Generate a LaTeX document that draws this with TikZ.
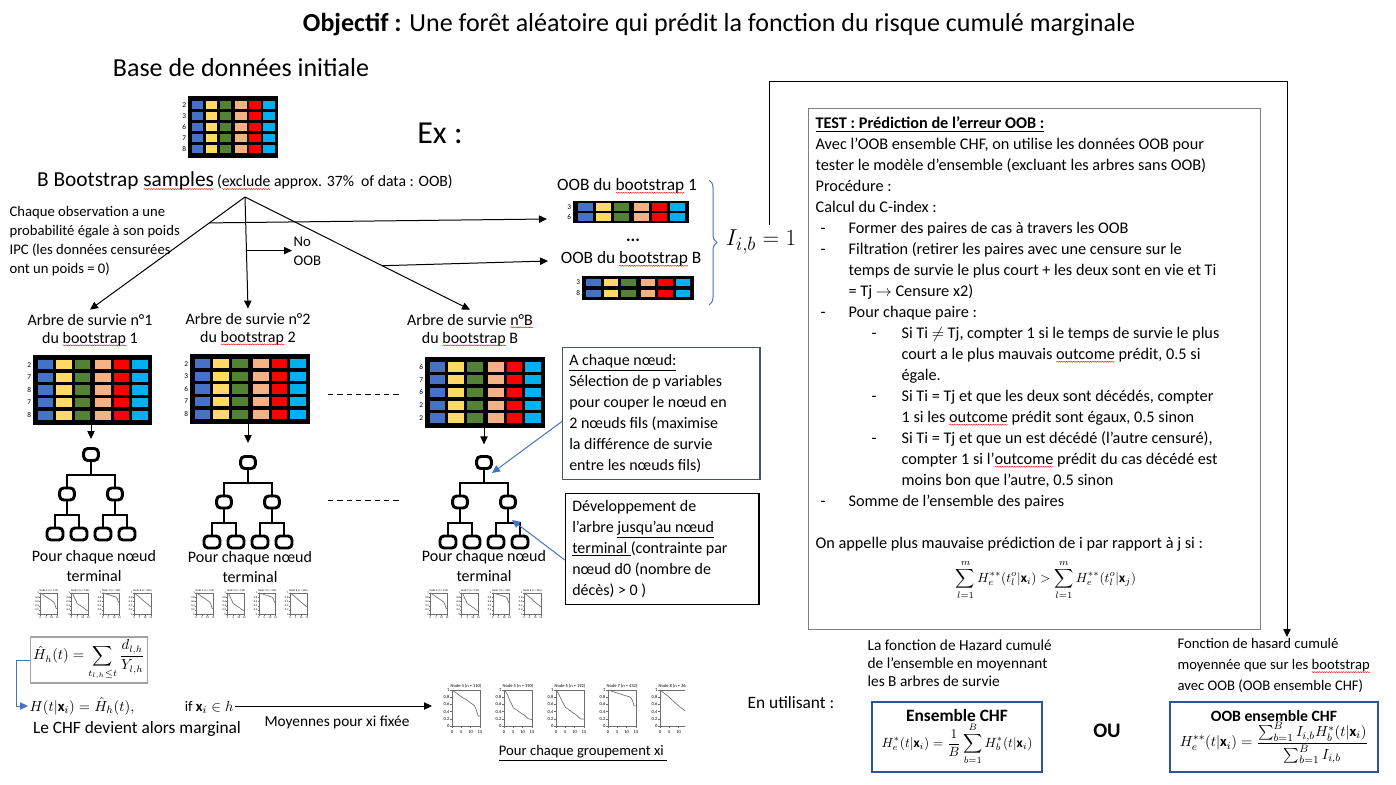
\documentclass[tikz,border=0pt]{standalone}
\usepackage{fontspec}
\setmainfont{Carlito}
\usepackage{amsmath, amssymb}
\usepackage{tikz}
\usetikzlibrary{positioning, arrows.meta, calc, decorations.pathreplacing, decorations.pathmorphing}
\definecolor{cellBlue}  {HTML}{4472C4}
\definecolor{cellYellow}{HTML}{FFD966}
\definecolor{cellGreen} {HTML}{548235}
\definecolor{cellPeach} {HTML}{F4B183}
\definecolor{cellRed}   {HTML}{FF0000}
\definecolor{cellCyan}  {HTML}{00B0F0}
\definecolor{accentBlue}{HTML}{4472C4}
\definecolor{frameBlue} {HTML}{2F5597}
\definecolor{frameGray} {HTML}{7F7F7F}
\definecolor{frameSlate}{HTML}{44546A}
\definecolor{plotGray}  {HTML}{6E6E6E}

\tikzset{
  arr/.style={-{Triangle[length=6pt,width=5.5pt]}, line width=0.75pt},
  bluearr/.style={-{Triangle[length=6pt,width=5.5pt]}, draw=accentBlue, line width=0.75pt},
  tabframe/.style={fill=black, inner sep=0pt, outer sep=0pt},
  rowlab/.style={font=\fontsize{5.5}{6}\selectfont, inner sep=0.5pt},
  tbox/.style={draw, line width=2.2pt, rounded corners=3pt, minimum width=11pt, minimum height=9pt, inner sep=0pt},
  tleaf/.style={tbox, minimum width=12pt},
  tline/.style={line width=2.2pt},
  txt/.style={font=\fontsize{12}{15.75}\selectfont, inner sep=1pt},
  smalltxt/.style={font=\fontsize{11}{14.25}\selectfont, inner sep=1pt},
  tinytxt/.style={font=\fontsize{3.4}{3.8}\selectfont, inner sep=0.3pt},
}

% spell-check wave under a word
\newsavebox{\sqbox}
\newcommand{\squig}[1]{\sbox{\sqbox}{#1}\rlap{\raisebox{-2.3pt}{\tikz[x=1pt, y=1pt]\draw[red, line width=0.3pt, decorate, decoration={zigzag, amplitude=0.4pt, segment length=1.8pt}] (0,0) -- (\wd\sqbox,0);}}\usebox{\sqbox}}
% indents of the test box
\newcommand{\dashA}{\hspace*{3.75pt}\makebox[21pt][l]{-}}
\newcommand{\contA}{\hspace*{24.75pt}}
\newcommand{\dashB}{\hspace*{42pt}\makebox[22.5pt][l]{-}}
\newcommand{\contB}{\hspace*{64.5pt}}

% data table: name, x, y, width, height, rows, row labels
\newcommand{\datatab}[7]{%
  \node[tabframe, anchor=north west, minimum width=#4*0.75pt, minimum height=#5*0.75pt] (#1) at (#2,#3) {};
  \foreach \col [count=\ci from 0] in {cellBlue,cellYellow,cellGreen,cellPeach,cellRed,cellCyan}
    \foreach \rw [count=\rj from 0] in {#7}
      \fill[\col] ($(#1.north west)+({#4*(0.04+0.155*\ci+0.02*(\ci>2))},{#5*0.05+(\rj+0.14)*#5*0.9/#6})$)
        rectangle ++({#4*0.13},{#5*0.9/#6*0.72});
  \foreach \rw [count=\rj from 0] in {#7}
    \node[rowlab, anchor=east] at ($(#1.north west)+(-1,{#5*0.05+(\rj+0.5)*#5*0.9/#6})$) {\rw};
}

% tree icon: name, centre x, top y
\newcommand{\survtree}[3]{%
  \node[tbox] (#1r) at (#2,#3+7.5) {};
  \coordinate (#1b) at (#2,#3+28);
  \node[tbox] (#1c1) at (#2-24,#3+47) {};
  \node[tbox] (#1c2) at (#2+24,#3+47) {};
  \coordinate (#1b1) at (#2-24,#3+68);
  \coordinate (#1b2) at (#2+24,#3+68);
  \node[tleaf] (#1l1) at (#2-36,#3+87) {};
  \node[tleaf] (#1l2) at (#2-12,#3+87) {};
  \node[tleaf] (#1l3) at (#2+12,#3+87) {};
  \node[tleaf] (#1l4) at (#2+36,#3+87) {};
  \draw[tline] (#1r) -- (#1b) -| (#1c1);
  \draw[tline] (#1b) -| (#1c2);
  \draw[tline] (#1c1) -- (#1b1) -| (#1l1);
  \draw[tline] (#1b1) -| (#1l2);
  \draw[tline] (#1c2) -- (#1b2) -| (#1l3);
  \draw[tline] (#1b2) -| (#1l4);
}

% survival curves (t/S)
\newcommand{\curveA}{2/0.93,4/0.85,6/0.78,8/0.72,10/0.64,12/0.57,13/0.45,14/0.28,15/0.27}
\newcommand{\curveB}{1/0.95,2/0.85,3/0.72,4/0.62,5/0.5,7/0.44,9/0.36,11/0.3,13/0.2,15/0.18}
\newcommand{\curveC}{1/0.93,2/0.82,3/0.72,5/0.52,7/0.45,9/0.37,11/0.3,13/0.2,15/0.19}
\newcommand{\curveD}{3/0.95,6/0.9,9/0.85,12/0.8,13/0.72,14/0.56,15/0.56}
\newcommand{\curveE}{2/0.92,4/0.84,6/0.75,8/0.65,10/0.56,12/0.48,14/0.4,15/0.35}

% one panel: x offset, title, curve
\newcommand{\plotpanel}[3]{%
  \begin{scope}[shift={(#1,0)}]
    \draw[plotGray, line width=0.3pt] (14,8) rectangle (42,44);
    \node[tinytxt] at (28,4.5) {#2};
    \foreach \v in {0,0.2,0.4,0.6,0.8,1} {
      \draw[plotGray, line width=0.3pt] (14,{44-36*\v}) -- ++(-2,0);
      \node[tinytxt, anchor=east] at (12,{44-36*\v}) {\v};
    }
    \foreach \t in {0,5,10,15} {
      \draw[plotGray, line width=0.3pt] ({14+28*\t/15},44) -- ++(0,2);
      \node[tinytxt] at ({14+28*\t/15},50) {\t};
    }
    \draw[plotGray, line width=0.5pt] (14,8) \foreach \t/\s in #3 {-- ({14+28*\t/15},{44-36*\s})};
  \end{scope}}

\begin{document}
\begin{tikzpicture}[x=0.75pt, y=-0.75pt]
  \useasboundingbox (0,0) rectangle (1396,785);

  \node[font=\fontsize{19.5}{23}\selectfont] (title) at (719,25) {\textbf{Objectif :} Une forêt aléatoire qui prédit la fonction du risque cumulé marginale};
  \node[font=\fontsize{19.5}{23}\selectfont] (base) at (241,68) {Base de données initiale};
  \datatab{tab0}{188}{96}{90}{62}{5}{2,3,6,7,8}
  \node[font=\fontsize{24}{28}\selectfont] (ex) at (440,133) {Ex :};
  \node (boot) at (245,181) {{\fontsize{16}{19}\selectfont B Bootstrap \squig{samples}} {\fontsize{11.8}{14}\selectfont (\squig{exclude} approx. 37\%\ \ of data : OOB)}};
  \coordinate (fan) at (245,197);

  \node[smalltxt, anchor=north west, align=left] (poids) at (8,205) {Chaque observation a une\\probabilité égale à son poids\\IPC (les données censurées\\ont un poids = 0)};
  \node[smalltxt, anchor=west, align=left] (nooob) at (292,251) {No\\OOB};

  % OOB samples
  \node[font=\fontsize{13}{15}\selectfont] (oob1lab) at (627,186) {OOB du \squig{bootstrap} 1};
  \datatab{oob1}{573}{201}{116}{22}{2}{3,6}
  \node[font=\bfseries\fontsize{13}{15}\selectfont] (dots) at (633,240) {...};
  \node[font=\fontsize{13}{15}\selectfont] (oobBlab) at (631,259) {OOB du \squig{bootstrap} B};
  \datatab{oobB}{582}{276}{112}{24}{2}{3,8}
  \draw[accentBlue, line width=0.75pt, decorate, decoration={brace, amplitude=6pt}] (709,180) -- (709,305);
  \node[font=\fontsize{19}{22}\selectfont] (ilab) at (761,242) {$I_{i,b}=1$};

  % trees
  \node[txt, font=\fontsize{12}{13.5}\selectfont, align=center, inner ysep=3pt] (lab1) at (90,330) {Arbre de survie n°1\\du \squig{bootstrap} 1};
  \node[txt, font=\fontsize{12}{13.5}\selectfont, align=center, inner ysep=3pt] (lab2) at (248,329) {Arbre de survie n°2\\du \squig{bootstrap} 2};
  \node[txt, font=\fontsize{12}{13.5}\selectfont, align=center, inner ysep=3pt] (labB) at (470,330) {Arbre de survie \squig{n°B}\\du \squig{bootstrap} B};
  \draw[arr] (fan) -- (lab1.north);
  \draw[arr] (fan) -- (lab2.north);
  \draw[arr] (fan) -- (labB.north);
  \coordinate (s1) at ($(fan)!0.23!(lab1.north)$);
  \coordinate (s2) at ($(fan)!0.48!(lab2.north)$);
  \coordinate (s3) at ($(fan)!0.61!(labB.north)$);
  \draw[arr] (s1) -- ($(oob1.west)+(-26,7)$);
  \draw[arr] (s2) -- (s2 -| nooob.west);
  \draw[arr] (s3) -- ($(oobBlab.west)+(-8,2)$);

  \datatab{tab1}{33}{355}{119}{70}{5}{2,7,8,7,8}
  \datatab{tab2}{190}{354}{120}{70}{5}{2,3,6,7,8}
  \datatab{tabB}{425}{357}{120}{71}{5}{6,7,6,2,2}
  \draw[dashed, dash pattern=on 4pt off 3pt, line width=0.75pt] (328,394) -- (400,394);

  \survtree{t1}{91}{447}
  \survtree{t2}{248}{455}
  \survtree{tB}{484}{455}
  \draw[arr] (tab1.south -| t1r.north) -- ([yshift=6pt]t1r.north);
  \draw[arr] (tab2.south -| t2r.north) -- ([yshift=9pt]t2r.north);
  \draw[arr] (tabB.south -| tBr.north) -- ([yshift=8pt]tBr.north);
  \draw[dashed, dash pattern=on 4pt off 3pt, line width=0.75pt] (328,500) -- (402,500);

  \node[txt, font=\fontsize{12}{14.5}\selectfont, align=center] (pc1) at (94,566) {Pour chaque nœud\\terminal};
  \node[txt, font=\fontsize{12}{14.5}\selectfont, align=center] (pc2) at (250,567) {Pour chaque nœud\\terminal};
  \node[txt, font=\fontsize{12}{14.5}\selectfont, align=center] (pcB) at (484,566) {Pour chaque nœud\\terminal};

  \begin{scope}[shift={(32,588)}, scale=0.6, transform shape]
    \plotpanel{0}{Node 4 (n = 110)}{\curveA}
    \plotpanel{52}{Node 5 (n = 190)}{\curveB}
    \plotpanel{104}{Node 7 (n = 432)}{\curveD}
    \plotpanel{156}{Node 8 (n = 365)}{\curveE}
  \end{scope}
  \begin{scope}[shift={(188,588)}, scale=0.6, transform shape]
    \plotpanel{0}{Node 4 (n = 110)}{\curveA}
    \plotpanel{52}{Node 5 (n = 190)}{\curveB}
    \plotpanel{104}{Node 7 (n = 432)}{\curveD}
    \plotpanel{156}{Node 8 (n = 365)}{\curveE}
  \end{scope}
  \begin{scope}[shift={(422,588)}, scale=0.6, transform shape]
    \plotpanel{0}{Node 4 (n = 110)}{\curveA}
    \plotpanel{52}{Node 5 (n = 190)}{\curveB}
    \plotpanel{104}{Node 7 (n = 432)}{\curveD}
    \plotpanel{156}{Node 8 (n = 365)}{\curveE}
  \end{scope}

  % notes next to tree B
  \node[txt, draw=frameSlate, line width=0.9pt, anchor=north west, align=flush left, text width=138pt, inner xsep=5pt, inner ysep=5pt] (nodebox) at (562,347)
    {\underline{A chaque nœud:}\\Sélection de p variables\\pour couper le nœud en\\2 nœuds fils (maximise\\la différence de survie\\entre les nœuds fils)};
  \node[txt, draw, line width=0.9pt, anchor=north west, align=flush left, text width=135pt, inner xsep=5pt, inner ysep=5pt] (devbox) at (565,493)
    {Développement de\\l’arbre \underline{jusqu’au nœud}\\\underline{terminal }(contrainte par\\nœud d0 (nombre de\\décès) > 0 )};
  \draw[bluearr] ($(nodebox.north west)!0.56!(nodebox.south west)$) -- ($(tBb)+(8,-10)$);
  \draw[bluearr] ($(devbox.north west)!0.6!(devbox.south west)$) -- ($(tBb2)+(4,-3)$);

  % OOB test
  \node[draw=frameGray, line width=1pt, anchor=north west, minimum width=452*0.75pt, minimum height=521*0.75pt] (testbox) at (808,108) {};
  \node[txt, font=\fontsize{12.2}{15.75}\selectfont, anchor=north west, align=left] (testtxt) at (814,115) {%
    \textbf{\underline{TEST : Prédiction de l’erreur OOB :}}\\
    Avec l’OOB ensemble CHF, on utilise les données OOB pour\\
    tester le modèle d’ensemble (excluant les arbres sans OOB)\\
    Procédure :\\
    Calcul du C-index :\\
    \dashA Former des paires de cas à travers les OOB\\
    \dashA Filtration (retirer les paires avec une censure sur le\\
    \contA temps de survie le plus court + les deux sont en vie et Ti\\
    \contA = Tj $\rightarrow$ Censure x2)\\
    \dashA Pour chaque paire :\\
    \dashB Si Ti $\neq$ Tj, compter 1 si le temps de survie le plus\\
    \contB court a le plus mauvais \squig{outcome} prédit, 0.5 si\\
    \contB égale.\\
    \dashB Si Ti = Tj et que les deux sont décédés, compter\\
    \contB 1 si les \squig{outcome} prédit sont égaux, 0.5 sinon\\
    \dashB Si Ti = Tj et que un est décédé (l’autre censuré),\\
    \contB compter 1 si l’\squig{outcome} prédit du cas décédé est\\
    \contB moins bon que l’autre, 0.5 sinon\\
    \dashA Somme de l’ensemble des paires\\[15.75pt]
    On appelle plus mauvaise prédiction de i par rapport à j si :};
  \node[font=\fontsize{10}{12}\selectfont] (testeq) at (1046,580) {$\displaystyle\sum_{l=1}^{m}H_e^{**}(t_l^o|\mathbf{x}_i)>\sum_{l=1}^{m}H_e^{**}(t_l^o|\mathbf{x}_j)$};

  \coordinate (topc) at (1287,81);
  \node[txt, font=\fontsize{11}{15.75}\selectfont, anchor=north west, align=left] (fhc) at (1176,637) {Fonction de hasard cumulé\\moyennée que sur les \squig{bootstrap}\\avec OOB (OOB ensemble CHF)};
  \draw[arr] ([xshift=6pt]ilab.north) |- (topc) -- (topc |- fhc.north);

  % marginal CHF
  \node[draw=frameGray!70, line width=1pt, inner sep=2pt, font=\fontsize{10.5}{12}\selectfont] (hbox) at (89,660) {$\displaystyle\hat{H}_h(t)=\sum_{t_{l,h}\le t}\frac{d_{l,h}}{Y_{l,h}}$};
  \node[font=\fontsize{11}{13}\selectfont, anchor=west, inner sep=1pt] (hline) at (28,706) {$H(t|\mathbf{x}_i)=\hat{H}_h(t),\hspace{36pt}\mathrm{if}\ \mathbf{x}_i\in h$};
  \draw[bluearr] (hbox.west) -- ++(-13,0) |- (hline.west);
  \node[font=\fontsize{13}{15}\selectfont] (marg) at (137,729) {Le CHF devient alors marginal};
  \coordinate (strip) at (432,706);
  \draw[arr] (hline.east) -- (strip);
  \node[font=\fontsize{11.5}{13}\selectfont, inner sep=1pt] (moy) at (337,722) {Moyennes pour xi fixée};
  \begin{scope}
    \clip (434,670) rectangle (685,750);
    \begin{scope}[shift={(438,682)}]
      \plotpanel{0}{Node 4 (n = 110)}{\curveA}
      \plotpanel{52}{Node 5 (n = 190)}{\curveB}
      \plotpanel{104}{Node 5 (n = 192)}{\curveC}
      \plotpanel{156}{Node 7 (n = 432)}{\curveD}
      \plotpanel{208}{Node 8 (n = 365)}{\curveE}
    \end{scope}
  \end{scope}
  \node[font=\fontsize{11}{13}\selectfont] (grp) at (583,753) {\underline{Pour chaque groupement xi }};

  % ensemble CHF
  \node[font=\fontsize{13}{15}\selectfont, inner sep=1pt] (util) at (791,703) {En utilisant :};
  \node[font=\fontsize{11.5}{13.5}\selectfont, anchor=north west, align=left, inner sep=1pt] (hazd) at (866,638) {La fonction de Hazard cumulé\\de l’ensemble en moyennant\\les B arbres de survie};
  \node[draw=frameBlue, line width=1pt, minimum width=170*0.75pt, minimum height=70*0.75pt, align=center, font=\fontsize{10}{12}\selectfont, inner sep=1pt] (ens) at (957,737)
    {{\fontsize{13}{15}\selectfont\textbf{Ensemble CHF}}\\$\displaystyle H_e^{*}(t|\mathbf{x}_i)=\frac{1}{B}\sum_{b=1}^{B}H_b^{*}(t|\mathbf{x}_i)$};
  \node[font=\bfseries\fontsize{15.5}{18}\selectfont] (ou) at (1107,731) {OU};
  \node[draw=frameBlue, line width=1pt, minimum width=208*0.75pt, minimum height=70*0.75pt, align=center, font=\fontsize{11}{13}\selectfont, inner sep=1pt] (oobens) at (1274,737)
    {{\fontsize{11.8}{14}\selectfont\textbf{OOB ensemble CHF}}\\$\displaystyle H_e^{**}(t|\mathbf{x}_i)=\frac{\sum_{b=1}^{B}I_{i,b}H_b^{*}(t|\mathbf{x}_i)}{\sum_{b=1}^{B}I_{i,b}}$};
\end{tikzpicture}
\end{document}
